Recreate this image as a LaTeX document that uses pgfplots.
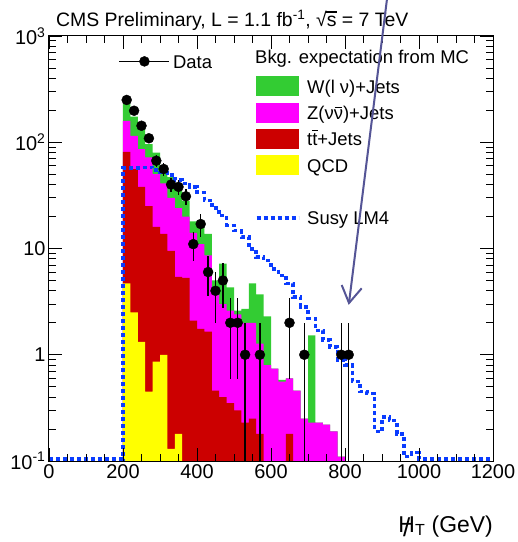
\documentclass[border=0pt]{standalone}
\usepackage{fontspec}
\setmainfont{Liberation Sans}
\usepackage{pgfplots}
\pgfplotsset{compat=1.18}

\definecolor{wjets}{RGB}{51,204,51}
\definecolor{zjets}{RGB}{255,0,255}
\definecolor{ttjets}{RGB}{204,0,0}
\definecolor{qcd}{RGB}{255,255,0}
\definecolor{lmfour}{RGB}{10,60,255}
\definecolor{arrowc}{RGB}{85,85,150}

% a letter with a bar over it: #1 letter, #2 height of the bar, #3 bar width
\newcommand{\overbar}[3]{{\ooalign{#1\cr\hidewidth\raisebox{#2}{\rule{#3}{0.065em}}\hidewidth\cr}}}
% missing transverse energy style H with a slash
\newcommand{\slashH}{{\ooalign{H\cr\hidewidth\raisebox{-0.18em}{\fontsize{26}{28}\selectfont /}\hidewidth\cr}}}

\begin{document}
\begin{tikzpicture}
% ---- stacked background expectation and LM4 signal
\begin{axis}[
  scale only axis, width=444bp, height=425bp,
  at={(0bp,0bp)}, anchor=south west,
  xmin=0, xmax=1200, ymin=0.1, ymax=1000, ymode=log,
  axis on top,
  xtick={0,200,...,1200},
  xticklabels={0,200,400,600,800,1000,1200},
  minor x tick num=3,
  ytick={0.1,1,10,100,1000},
  yticklabels={10\textsuperscript{-1},1,10,10\textsuperscript{2},10\textsuperscript{3}},
  minor ytick={0.2,0.3,0.4,0.5,0.6,0.7,0.8,0.9,2,3,4,5,6,7,8,9,20,30,40,50,60,70,80,90,200,300,400,500,600,700,800,900},
  tick align=inside,
  major tick length=13bp, minor tick length=7bp,
  every tick/.style={black, line width=0.9bp},
  axis line style={line width=1bp},
  ticklabel style={font=\fontsize{20}{24}\selectfont},
  legend style={at={(0.463,0.976)}, anchor=north west,
    draw=none, fill=none, inner sep=0pt,
    font=\fontsize{18.5}{22}\selectfont,
    nodes={inner sep=1.5bp}, row sep=6.5bp},
  legend cell align=left,
]
\addlegendimage{empty legend}
\addlegendentry{\hspace*{-52bp}\raisebox{3.5bp}{\strut Bkg. expectation from MC}}
\addlegendimage{legend image code/.code={\fill[wjets] (0bp,-9.5bp) rectangle (42bp,9.5bp); \path (49bp,0bp);}}
\addlegendentry{\strut W(l ν)+Jets}
\addlegendimage{legend image code/.code={\fill[zjets] (0bp,-9.5bp) rectangle (42bp,9.5bp); \path (49bp,0bp);}}
\addlegendentry{\strut Z(ν\overbar{ν}{0.62em}{0.42em})+Jets}
\addlegendimage{legend image code/.code={\fill[ttjets] (0bp,-9.5bp) rectangle (42bp,9.5bp); \path (49bp,0bp);}}
\addlegendentry{\strut t\overbar{t}{0.8em}{0.3em}+Jets}
\addlegendimage{legend image code/.code={\fill[qcd] (0bp,-9.5bp) rectangle (42bp,9.5bp); \path (49bp,0bp);}}
\addlegendentry{\strut QCD}
\addlegendimage{empty legend}
\addlegendentry{\strut}
\addlegendimage{legend image code/.code={\draw[lmfour, line width=3.5bp, dash pattern=on 4bp off 3bp] (0bp,0bp) -- (42bp,0bp); \path (49bp,0bp);}}
\addlegendentry{\strut Susy LM4}

% W+jets (top of the stack: total expectation)
\addplot[const plot mark left, fill=wjets, draw=none, forget plot] coordinates {
 (200,0.001) (200,230) (220,174) (240,143) (260,96) (280,80) (300,60) (320,47)
 (340,35) (360,28) (380,18) (400,18) (420,13.7) (440,5.0) (460,7.2) (480,4.3)
 (500,2.6) (520,2.7) (540,4.7) (560,3.7) (580,2.3) (600,0.74) (620,0.58) (640,0.6)
 (660,0.46) (680,0.25) (700,1.52) (720,0.23) (740,0.22) (760,0.19) (780,0.11)
 (800,0.11) (800,0.001)};
% Z(nu nubar)+jets
\addplot[const plot mark left, fill=zjets, draw=none, forget plot] coordinates {
 (200,0.001) (200,159) (220,115) (240,86) (260,72) (280,50) (300,41) (320,30)
 (340,24) (360,20) (380,14) (400,11) (420,8.6) (440,4.0) (460,3.0) (480,2.6)
 (500,2.4) (520,2.0) (540,2.0) (560,1.27) (580,0.8) (600,0.74) (620,0.56) (640,0.6)
 (660,0.46) (680,0.25) (700,0.23) (720,0.23) (740,0.22) (760,0.19) (780,0.11)
 (800,0.11) (800,0.001)};
% ttbar+jets
\addplot[const plot mark left, fill=ttjets, draw=none, forget plot] coordinates {
 (200,0.001) (200,81) (220,56) (240,38) (260,25) (280,16) (300,13.7) (320,9.5)
 (340,5.4) (360,5.3) (380,2.1) (400,1.75) (420,1.65) (440,0.46) (460,0.40) (480,0.35)
 (500,0.30) (520,0.23) (540,0.25) (560,0.18) (580,0.001) (640,0.18) (660,0.001)
 (800,0.001)};
% QCD
\addplot[const plot mark left, fill=qcd, draw=none, forget plot] coordinates {
 (200,0.001) (200,4.7) (220,2.5) (240,1.32) (260,0.45) (280,0.86) (300,1.0)
 (320,0.13) (340,0.18) (360,0.001)};
% SUSY benchmark LM4
\addplot[const plot mark left, draw=lmfour, line width=3.5bp, dash pattern=on 4bp off 3bp, forget plot] coordinates {
 (0,0.105) (200,57) (220,57) (240,58) (260,58) (280,55) (300,52) (320,49) (340,44)
 (360,41) (380,38) (400,33.7) (420,28.4) (440,24) (460,20.4) (480,16.5) (500,14.7)
 (520,12.8) (540,9.9) (560,8.3) (580,7.7) (600,6.4) (620,5.6) (640,4.7) (660,3.5)
 (680,2.8) (700,2.2) (720,1.7) (740,1.37) (760,1.18) (780,0.89) (800,0.8) (820,0.56)
 (840,0.45) (860,0.43) (880,0.19) (900,0.26) (920,0.24) (940,0.18) (960,0.11)
 (980,0.12) (1000,0.105) (1200,0.105)};
\end{axis}

% ---- observed data
\begin{axis}[
  scale only axis, width=444bp, height=425bp,
  at={(0bp,0bp)}, anchor=south west,
  xmin=0, xmax=1200, ymin=0.1, ymax=1000, ymode=log,
  hide axis,
  legend style={at={(0.1565,0.964)}, anchor=north west,
    draw=none, fill=none, inner sep=0pt,
    font=\fontsize{18.5}{22}\selectfont,
    nodes={inner sep=1.5bp}},
  legend cell align=left,
]
\addplot[black, only marks, mark=*, mark size=5bp,
  legend image code/.code={\draw[black, line width=1.5bp] (0bp,0bp) -- (50bp,0bp); \fill[black] (25bp,0bp) circle (5bp); \path (52bp,0bp);},
  error bars/.cd, y dir=both, y explicit, error mark=none,
  error bar style={line width=1.5bp, black}]
coordinates {
 (210,250) +- (0,15.8)
 (230,198) +- (0,14.1)
 (250,143) +- (0,12.0)
 (270,109) +- (0,10.4)
 (290,67) +- (0,8.2)
 (310,56) +- (0,7.5)
 (330,40) +- (0,6.3)
 (350,38) +- (0,6.2)
 (370,31) +- (0,5.6)
 (390,11) +- (0,3.3)
 (410,17) +- (0,4.1)
 (430,6) +- (0,2.45)
 (450,4) +- (0,2.0)
 (470,5) +- (0,2.24)
 (490,2) +- (0,1.41)
 (510,2) +- (0,1.41)
 (530,1) += (0,1) -= (0,0.999)
 (570,1) += (0,1) -= (0,0.999)
 (650,2) +- (0,1.41)
 (690,1) += (0,1) -= (0,0.999)
 (790,1) += (0,1) -= (0,0.999)
 (810,1) += (0,1) -= (0,0.999)
};
\addlegendentry{\strut Data}
\end{axis}

% title, axis label and the arrow pointing at the tail
\node[anchor=base west, inner sep=0pt, font=\fontsize{19.5}{22}\selectfont] at (7bp,434bp)
  {CMS Preliminary, L = 1.1 fb\textsuperscript{-1}, √\overbar{s}{0.74em}{0.55em} = 7 TeV};
\node[anchor=base east, inner sep=0pt, font=\fontsize{23}{26}\selectfont] at (444bp,-71bp)
  {\slashH\textsubscript{T} (GeV)};
\draw[arrowc, line width=2bp] (339bp,470bp) -- (300bp,158bp);
\draw[arrowc, line width=2bp, line join=miter] (292.7bp,176bp) -- (300bp,158bp) -- (312.7bp,172.7bp);

\pgfresetboundingbox
\path[use as bounding box] (-49bp,-81bp) rectangle (469bp,461bp);
\end{tikzpicture}
\end{document}
